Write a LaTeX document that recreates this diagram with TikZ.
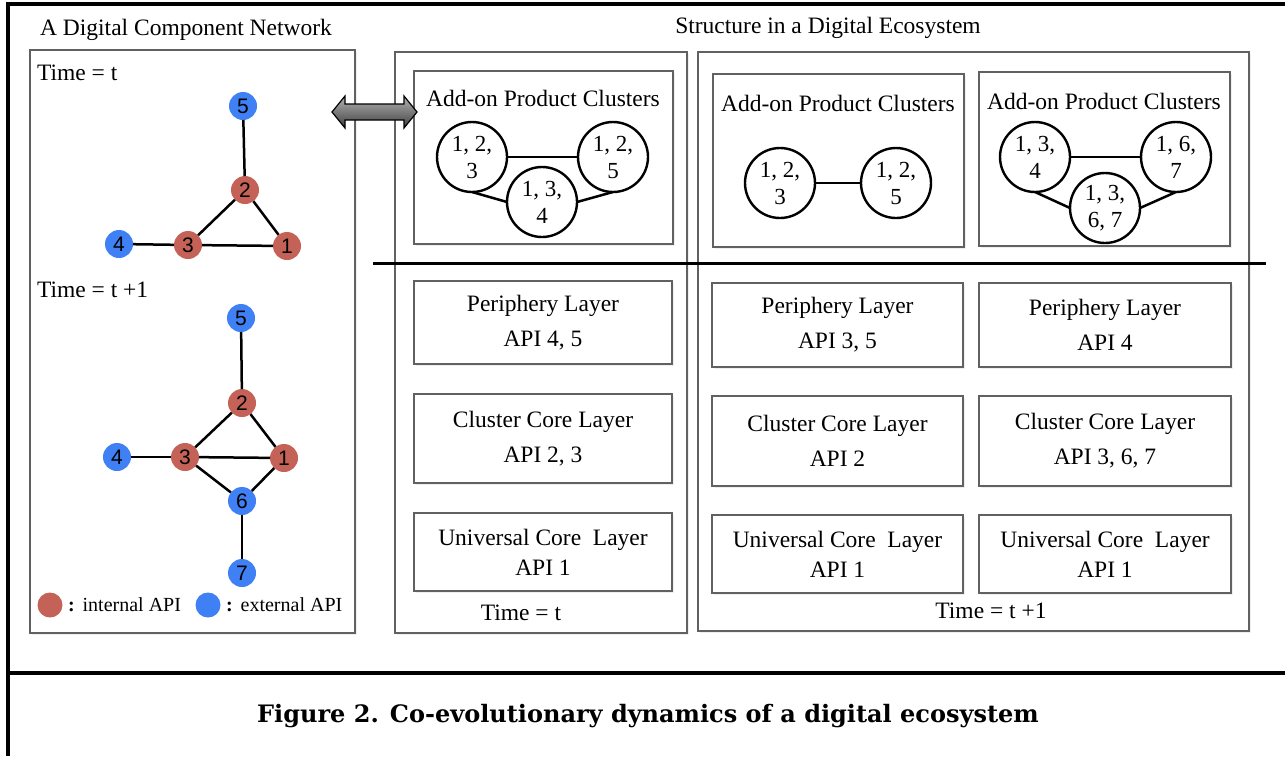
\documentclass[tikz,border=0pt]{standalone}
\usepackage{fontspec}
\setmainfont{Liberation Serif}
\newfontfamily\numfont{Liberation Sans}
\newfontfamily\capfont{DejaVu Serif}
\usetikzlibrary{shadows}
\begin{document}
\begin{tikzpicture}[x=1pt,y=-1pt,
  every node/.style={inner sep=0pt, outer sep=0pt},
  txt/.style={font=\fontsize{23.5}{27}\selectfont},
  panel/.style={draw=black!62, line width=1.4pt, fill=white,
    drop shadow={shadow xshift=1.5pt, shadow yshift=-1.5pt, fill=black!12}},
  layer/.style={panel, align=center, anchor=north west},
  layerA/.style={layer, font=\fontsize{23.5}{35}\selectfont},
  layerB/.style={layer, font=\fontsize{23.5}{30}\selectfont},
  cluster/.style={circle, draw=black, line width=2.4pt, fill=white,
    minimum size=70pt, align=center, font=\fontsize{23}{27}\selectfont},
  api/.style={circle, minimum size=28pt, font=\numfont\fontsize{21}{21}\selectfont},
  internal/.style={api, fill=apired},
  external/.style={api, fill=apiblue},
  edge/.style={line width=2.5pt, black},
  frame/.style={line width=3.5pt, black}
]
\definecolor{apired}{RGB}{196,98,88}
\definecolor{apiblue}{RGB}{64,128,245}

\useasboundingbox (0,0) rectangle (1285,756);

% outer frame and caption rule
\draw[frame] (1285,4) -- (8,4) -- (8,756);
\draw[frame] (8,673) -- (1285,673);

% headings
\node[txt] (hleft) at (186,30) {A Digital Component Network};
\node[txt] (hright) at (828,28) {Structure in a Digital Ecosystem};

% left panel: component network
\node[panel, anchor=north west, minimum width=325pt, minimum height=583pt] (leftpanel) at (30,50) {};
\node[txt, anchor=west] (tl1) at (37,73) {Time = t};
\node[txt, anchor=west] (tl2) at (37,290) {Time = t +1};

\node[external] (a5) at (243,106) {5};
\node[internal] (a2) at (245,190) {2};
\node[internal] (a3) at (188,245) {3};
\node[external] (a4) at (119,244) {4};
\node[internal] (a1) at (287,246) {1};
\draw[edge] (a5) -- (a2);
\draw[edge] (a2) -- (a3);
\draw[edge] (a2) -- (a1);
\draw[edge] (a4) -- (a3);
\draw[edge] (a3) -- (a1);

\node[external] (b5) at (241,318) {5};
\node[internal] (b2) at (242,403) {2};
\node[internal] (b3) at (185,457) {3};
\node[external] (b4) at (117,457) {4};
\node[internal] (b1) at (284,458) {1};
\node[external] (b6) at (242,501) {6};
\node[external] (b7) at (242,573) {7};
\draw[edge] (b5) -- (b2);
\draw[edge] (b2) -- (b3);
\draw[edge] (b2) -- (b1);
\draw[edge] (b4) -- (b3);
\draw[edge] (b3) -- (b1);
\draw[edge] (b3) -- (b6);
\draw[edge] (b1) -- (b6);
\draw[edge] (b6) -- (b7);

% legend
\node[circle, fill=apired, minimum size=25pt] (lgred) at (50,605) {};
\node[font=\fontsize{20}{24}\selectfont, anchor=west] (lgint) at (68,605) {\textbf{:}\hspace{8pt}internal API};
\node[circle, fill=apiblue, minimum size=25pt] (lgblue) at (208,605) {};
\node[font=\fontsize{20}{24}\selectfont, anchor=west] (lgext) at (226,605) {\textbf{:}\hspace{8pt}external API};

% middle panel: time t
\node[panel, anchor=north west, minimum width=292pt, minimum height=581pt] (midpanel) at (395,52) {};
\node[panel, anchor=north west, minimum width=259pt, minimum height=173pt] (midaddon) at (414,71) {};
\node[txt] (midaddonT) at (543,98) {Add-on Product Clusters};
\node[cluster] (m1) at (472,157) {1, 2,\\3};
\node[cluster] (m2) at (613,157) {1, 2,\\5};
\draw[edge] (m1) -- (m2);
\node[cluster] (m3) at (542,202) {1, 3,\\4};
\draw[edge] (m1.south) -- (m3.west);
\draw[edge] (m3.east) -- (m2.south);

\node[layerA, minimum width=258pt, minimum height=83pt] (mp) at (414,281) {Periphery Layer\\API 4, 5};
\node[layerA, minimum width=258pt, minimum height=89pt] (mc) at (414,394) {Cluster Core Layer\\API 2, 3};
\node[layerB, minimum width=258pt, minimum height=78pt] (mu) at (414,513) {Universal Core~ Layer\\API 1};
\node[txt] (midtime) at (521,613) {Time = t};

% right panel: time t+1
\node[panel, anchor=north west, minimum width=551pt, minimum height=579pt] (rightpanel) at (698,52) {};
\node[panel, anchor=north west, minimum width=251pt, minimum height=173pt] (addonA) at (713,74) {};
\node[txt] (addonAT) at (838,103) {Add-on Product Clusters};
\node[cluster] (p1) at (780,183) {1, 2,\\3};
\node[cluster] (p2) at (896,183) {1, 2,\\5};
\draw[edge] (p1) -- (p2);

\node[panel, anchor=north west, minimum width=251pt, minimum height=174pt] (addonB) at (979,72) {};
\node[txt] (addonBT) at (1104,101) {Add-on Product Clusters};
\node[cluster] (q1) at (1035,157) {1, 3,\\4};
\node[cluster] (q2) at (1176,157) {1, 6,\\7};
\draw[edge] (q1) -- (q2);
\node[cluster] (q3) at (1105,208) {1, 3,\\6, 7};
\draw[edge] (q1.south) -- (q3.west);
\draw[edge] (q3.east) -- (q2.south);

\node[layerA, minimum width=251pt, minimum height=84pt] (rp1) at (712,283) {Periphery Layer\\API 3, 5};
\node[layerA, minimum width=251pt, minimum height=90pt] (rc1) at (712,396) {Cluster Core Layer\\API 2};
\node[layerB, minimum width=251pt, minimum height=78pt] (ru1) at (712,515) {Universal Core~ Layer\\API 1};
\node[layerA, minimum width=252pt, minimum height=84pt] (rp2) at (979,283) {Periphery Layer\\API 4};
\node[layerA, minimum width=252pt, minimum height=90pt] (rc2) at (979,396) {Cluster Core Layer\\API 3, 6, 7};
\node[layerB, minimum width=252pt, minimum height=78pt] (ru2) at (979,515) {Universal Core~ Layer\\API 1};
\node[txt] (righttime) at (991,611) {Time = t +1};

% boundary between add-on products and platform layers
\coordinate (divL) at (373,263);
\coordinate (divR) at (1266,263);
\draw[line width=3pt] (divL) -- (divR);

% link between the network and the ecosystem structure
\draw[draw=black, line width=1.2pt, top color=black!30, bottom color=black!75]
  (332,112) -- (345,96) -- (345,104) -- (404,104) -- (404,96) -- (417,112)
  -- (404,128) -- (404,120) -- (345,120) -- (345,128) -- cycle;

% caption
\node[font=\capfont\bfseries\fontsize{24}{28}\selectfont] (caption) at (648,716)
  {Figure 2. Co-evolutionary dynamics of a digital ecosystem};
\end{tikzpicture}
\end{document}
